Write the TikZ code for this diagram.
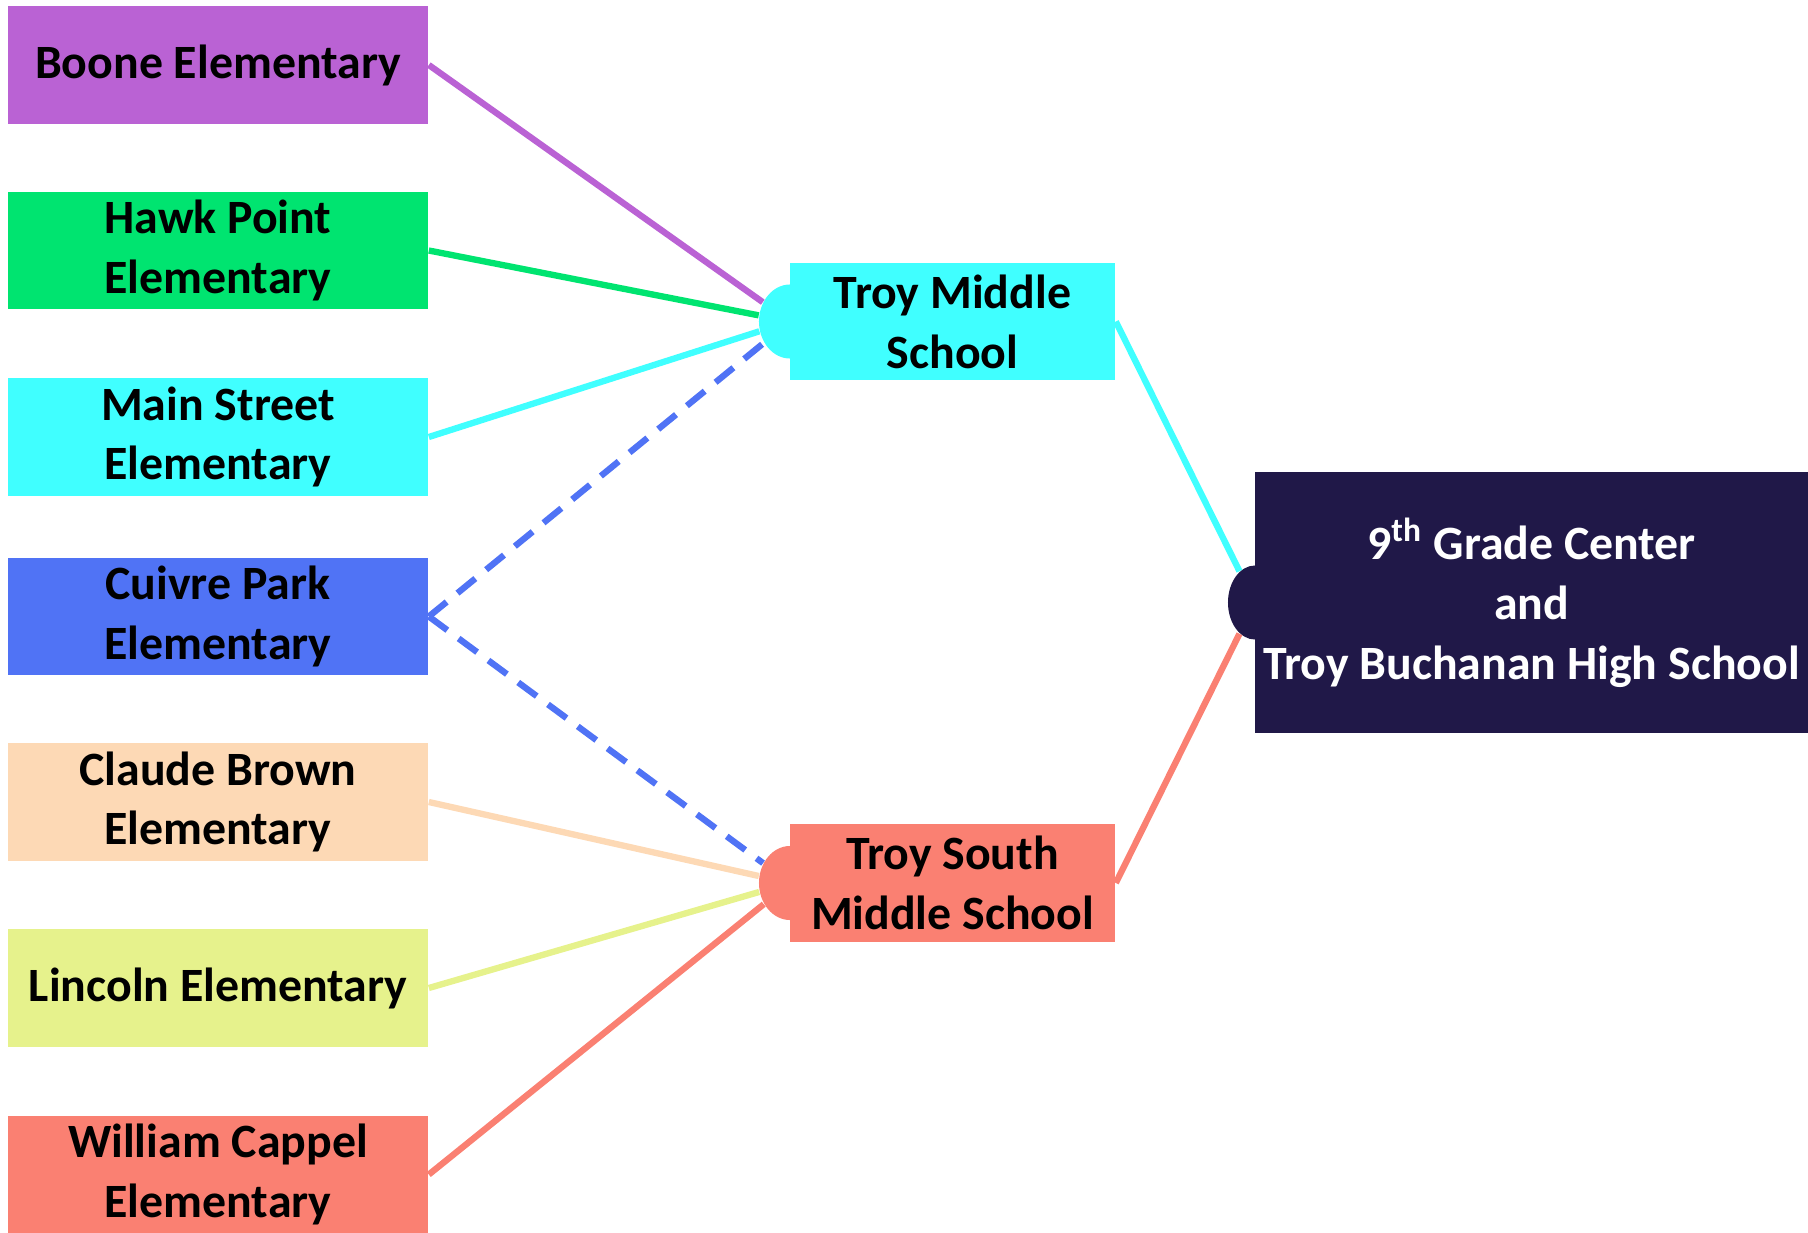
\documentclass[tikz,border=0pt]{standalone}
\usepackage{fontspec}
\setmainfont{Carlito}
\usepackage{tikz}
\usetikzlibrary{shapes.geometric}
\definecolor{boonec}{RGB}{186,98,212}
\definecolor{hawkc}{RGB}{0,228,112}
\definecolor{mainc}{RGB}{64,255,255}
\definecolor{cuivrec}{RGB}{80,115,245}
\definecolor{claudec}{RGB}{253,217,181}
\definecolor{lincolnc}{RGB}{230,242,140}
\definecolor{williamc}{RGB}{250,128,114}
\definecolor{hsc}{RGB}{32,24,72}

\begin{document}
\begin{tikzpicture}[x=0.01cm,y=-0.01cm,
  school/.style={fill=#1,text=black,font=\bfseries\fontsize{13.6}{17}\selectfont,align=center,inner sep=0pt},
  elem/.style={school=#1,minimum width=4.2cm,minimum height=1.17cm},
  mid/.style={school=#1,minimum width=3.25cm,minimum height=1.17cm},
  bump/.style={ellipse,fill=#1,inner sep=0pt,minimum width=0.62cm,minimum height=0.74cm},
  link/.style={draw=#1,line width=1.8pt},
  dashlink/.style={link=#1,dash pattern=on 0.23cm off 0.14cm}]
\useasboundingbox (0,0) rectangle (1808,1233);
\node[elem=boonec] (boone) at (218,65) {Boone Elementary};
\node[elem=hawkc] (hawk) at (218,250.5) {Hawk Point\\Elementary};
\node[elem=mainc] (main) at (218,437) {Main Street\\Elementary};
\node[elem=cuivrec] (cuivre) at (218,616.5) {Cuivre Park\\Elementary};
\node[elem=claudec] (claude) at (218,802) {Claude Brown\\Elementary};
\node[elem=lincolnc] (lincoln) at (218,988) {Lincoln Elementary};
\node[elem=williamc] (william) at (218,1174.5) {William Cappel\\Elementary};
\node[bump=mainc] (tmb) at (790,321.5) {};
\node[mid=mainc] (tm) at (952.5,321.5) {Troy Middle\\School};
\node[bump=williamc] (tsb) at (790,883) {};
\node[mid=williamc] (ts) at (952.5,883) {Troy South\\Middle School};
\node[bump=hsc,minimum width=0.54cm] (hsb) at (1255,602.5) {};
\node[school=hsc,text=white,minimum width=5.53cm,minimum height=2.61cm] (hs) at (1531.5,602.5) {9\textsuperscript{th} Grade Center\\and\\Troy Buchanan High School};
\draw[link=boonec] (boone.east) -- (tmb);
\draw[link=hawkc] (hawk.east) -- (tmb);
\draw[link=mainc] (main.east) -- (tmb);
\draw[dashlink=cuivrec] (cuivre.east) -- (tmb);
\draw[dashlink=cuivrec] (cuivre.east) -- (tsb);
\draw[link=claudec] (claude.east) -- (tsb);
\draw[link=lincolnc] (lincoln.east) -- (tsb);
\draw[link=williamc] (william.east) -- (tsb);
\draw[link=mainc] (tm.east) -- (hsb);
\draw[link=williamc] (ts.east) -- (hsb);
\end{tikzpicture}
\end{document}
